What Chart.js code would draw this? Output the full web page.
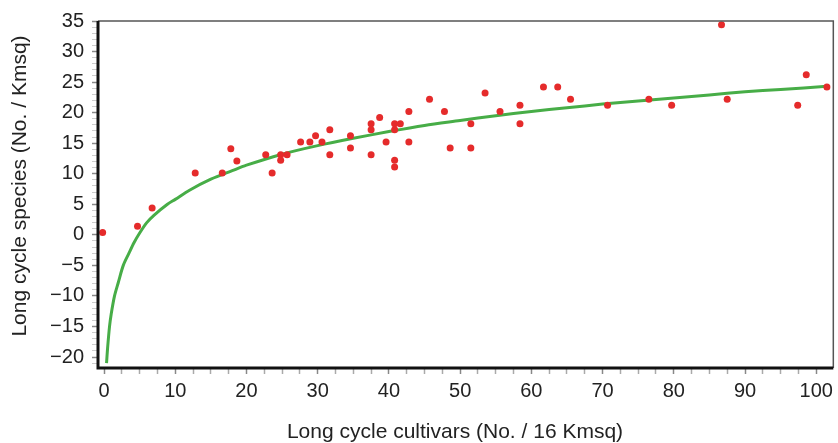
<!DOCTYPE html>
<html>
<head>
<meta charset="utf-8">
<script src="https://cdn.jsdelivr.net/npm/chart.js@4"></script>
<style>
  html, body { margin: 0; padding: 0; background: #fff; }
  #wrap { width: 838px; height: 443px; }
</style>
</head>
<body>
<div id="wrap"><canvas id="chart" width="838" height="443"></canvas></div>
<script>
// observed points (cultivars, species)
const obsX = [-0.2, 4.7, 6.75, 12.8, 16.6, 17.8, 18.65, 22.7, 23.6, 24.8, 24.8, 25.7, 27.6, 28.9, 29.7,
  30.6, 31.7, 31.7, 34.6, 34.6, 37.5, 37.5, 37.5, 38.7, 39.6, 40.8, 40.8, 40.8, 40.8, 41.6, 42.8,
  42.8, 45.7, 47.8, 48.6, 51.5, 51.5, 53.5, 55.6, 58.4, 58.4, 61.7, 63.7, 65.5, 70.7, 76.5, 79.7,
  86.7, 87.5, 97.4, 98.6, 101.5];
const obsY = [0.4, 1.4, 4.4, 10.1, 10.1, 14.1, 12.1, 13.1, 10.1, 13.1, 12.2, 13.1, 15.2, 15.2, 16.2,
  15.2, 17.2, 13.1, 16.2, 14.2, 18.2, 17.2, 13.1, 19.2, 15.2, 18.2, 17.2, 12.2, 11.1, 18.2, 20.2,
  15.2, 22.2, 20.2, 14.2, 18.2, 14.2, 23.2, 20.2, 21.2, 18.2, 24.2, 24.2, 22.2, 21.2, 22.2, 21.2,
  34.4, 22.2, 21.2, 26.2, 24.2];

// fitted curve
const fitX = [0.35, 0.5, 0.77, 1.0, 1.47, 2, 2.7, 3.5, 4.2, 5, 6, 7, 8.9, 10, 12, 15, 18, 20, 25, 30,
  35, 40, 45, 50, 55, 60, 65, 70, 75, 80, 85, 90, 95, 101.5];
const fitY = [-21, -18.5, -15, -13, -10, -7.8, -5, -3, -1.3, 0.3, 2, 3.2, 5, 5.8, 7.3, 9.1, 10.5, 11.4,
  13.2, 14.6, 15.8, 16.9, 17.9, 18.7, 19.5, 20.2, 20.8, 21.4, 21.9, 22.4, 22.9, 23.4, 23.8, 24.3];

const xLabels = [0, 10, 20, 30, 40, 50, 60, 70, 80, 90, 100];
const yLabels = [-20, -15, -10, -5, 0, 5, 10, 15, 20, 25, 30, 35];

const xTitle = 'Long cycle cultivars (No. / 16 Kmsq)';
const yTitle = 'Long cycle species (No. / Kmsq)';

function minorTicks(from, to, step) {
  const out = [];
  for (let v = from; v <= to + 1e-9; v += step) out.push({ value: Math.round(v * 100) / 100 });
  return out;
}

const fmt = v => String(v).replace('-', '\u2212');

const frame = {
  id: 'frame',
  afterDraw(chart) {
    const { ctx, chartArea: a } = chart;
    ctx.save();
    ctx.strokeStyle = '#555';
    ctx.lineWidth = 1.5;
    ctx.beginPath();
    ctx.moveTo(a.left, a.top);
    ctx.lineTo(a.right, a.top);
    ctx.lineTo(a.right, a.bottom);
    ctx.stroke();
    ctx.strokeStyle = '#111';
    ctx.lineWidth = 3;
    ctx.beginPath();
    ctx.moveTo(a.left, a.top);
    ctx.lineTo(a.left, a.bottom);
    ctx.lineTo(a.right, a.bottom);
    ctx.stroke();

    // axis titles
    ctx.fillStyle = '#222';
    ctx.font = '21px "Liberation Sans", Arial, sans-serif';
    ctx.textAlign = 'center';
    ctx.textBaseline = 'middle';
    ctx.fillText(xTitle, 455, 432);
    ctx.translate(20, 186);
    ctx.rotate(-Math.PI / 2);
    ctx.fillText(yTitle, 0, 0);
    ctx.restore();
  }
};

const font = { family: '"Liberation Sans", Arial, sans-serif', size: 20 };

new Chart(document.getElementById('chart'), {
  type: 'scatter',
  data: {
    datasets: [
      {
        type: 'line',
        data: fitX.map((x, i) => ({ x, y: fitY[i] })),
        borderColor: '#47ad47',
        borderWidth: 3,
        pointRadius: 0,
        tension: 0.3,
        fill: false,
        order: 2
      },
      {
        data: obsX.map((x, i) => ({ x, y: obsY[i] })),
        backgroundColor: '#e52b2b',
        borderWidth: 0,
        pointRadius: 3.5,
        order: 1
      }
    ]
  },
  options: {
    responsive: false,
    animation: false,
    layout: { padding: { top: 21, right: 3, left: 0, bottom: 0 } },
    plugins: { legend: { display: false }, tooltip: { enabled: false } },
    scales: {
      x: {
        type: 'linear',
        min: -0.85,
        max: 102.4,
        afterBuildTicks: s => { s.ticks = minorTicks(0, 100, 2.5); },
        afterFit: s => { s.height = 75; },
        border: { display: false },
        grid: {
          drawOnChartArea: false,
          drawTicks: true,
          tickLength: 6,
          color: c => (xLabels.includes(c.tick.value) ? '#888' : '#aaa'),
          tickWidth: 1.5
        },
        ticks: {
          color: '#222',
          font,
          padding: 5,
          maxRotation: 0,
          autoSkip: false,
          callback: v => (xLabels.includes(v) ? fmt(v) : '')
        }
      },
      y: {
        type: 'linear',
        min: -21.8,
        max: 35,
        afterBuildTicks: s => { s.ticks = minorTicks(-21, 35, 1); },
        afterFit: s => { s.width = 98; },
        border: { display: false },
        grid: {
          drawOnChartArea: false,
          drawTicks: true,
          tickLength: 6,
          color: c => (yLabels.includes(c.tick.value) ? '#888' : '#ccc'),
          tickWidth: c => (yLabels.includes(c.tick.value) ? 1.5 : 1)
        },
        ticks: {
          color: '#222',
          font,
          padding: 8,
          autoSkip: false,
          callback: v => (yLabels.includes(v) ? fmt(v) : '')
        }
      }
    }
  },
  plugins: [frame]
});
</script>
</body>
</html>
